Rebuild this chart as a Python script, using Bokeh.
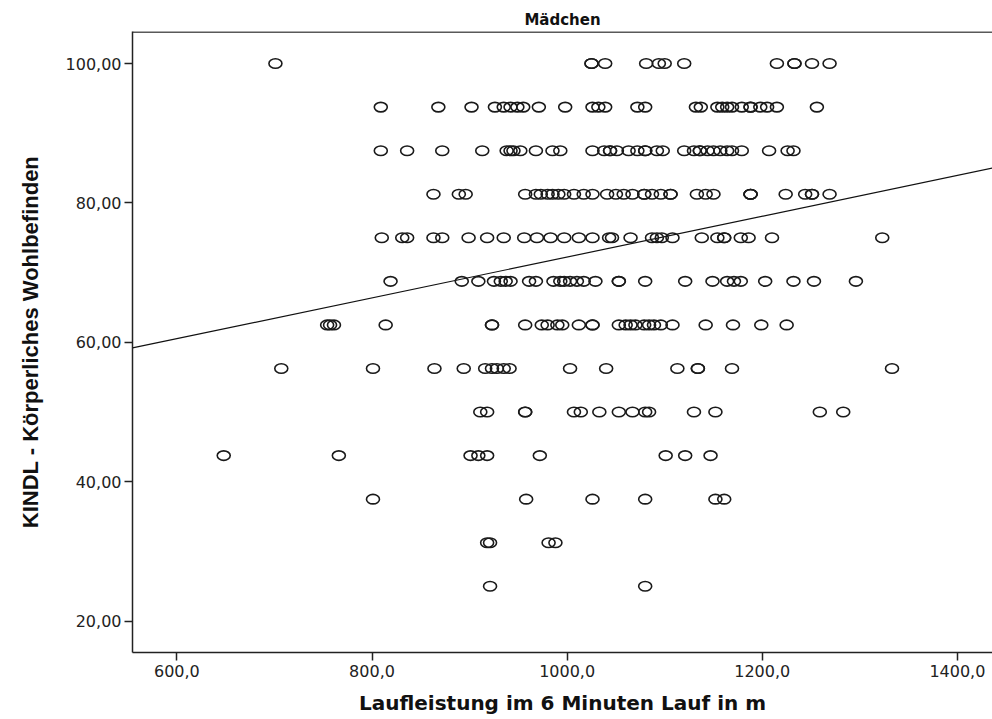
from bokeh.plotting import figure
from bokeh.models import Range1d, FixedTicker, Span, ColumnDataSource
from bokeh.embed import file_html
from bokeh.resources import INLINE

# ---- data ----
levels = [100.0, 93.75, 87.5, 81.25, 75.0, 68.75, 62.5, 56.25, 50.0, 43.75, 37.5, 31.25, 25.0]

run_100 = [701, 1025, 1025, 1039, 1081, 1094, 1100, 1120, 1215, 1233, 1233, 1251, 1269]
run_9375 = [809, 868, 902, 926, 935, 942, 949, 955, 971, 998, 1026, 1032, 1039, 1072, 1080,
            1132, 1137, 1154, 1159, 1164, 1169, 1179, 1188, 1188, 1198, 1205, 1215, 1256]
run_875 = [809, 836, 872, 913, 938, 942, 945, 952, 968, 985, 993, 1026, 1038, 1044, 1044, 1051,
           1063, 1072, 1080, 1080, 1092, 1098, 1120, 1130, 1136, 1136, 1144, 1150, 1157, 1164,
           1169, 1179, 1207, 1226, 1232]
run_8125 = [863, 889, 896, 957, 968, 973, 980, 985, 991, 997, 1007, 1017, 1026, 1041, 1050, 1058,
            1067, 1079, 1079, 1087, 1096, 1106, 1106, 1133, 1142, 1150, 1188, 1188, 1188, 1224,
            1244, 1251, 1251, 1269]
run_75 = [810, 831, 836, 863, 872, 899, 918, 935, 956, 969, 983, 997, 1012, 1026, 1043, 1046,
          1065, 1087, 1092, 1097, 1108, 1138, 1154, 1161, 1161, 1178, 1186, 1210, 1323]
run_6875 = [819, 892, 909, 925, 932, 937, 942, 961, 968, 986, 993, 997, 1003, 1010, 1017, 1029,
            1053, 1053, 1080, 1121, 1149, 1164, 1171, 1178, 1203, 1232, 1253, 1296]
run_625 = [754, 757, 761, 814, 923, 923, 957, 974, 980, 990, 995, 1012, 1026, 1026, 1053, 1060,
           1065, 1070, 1079, 1084, 1089, 1096, 1108, 1142, 1170, 1199, 1225]
run_5625 = [707, 801, 864, 894, 916, 923, 928, 935, 941, 1003, 1040, 1113, 1134, 1134, 1169, 1333]
run_50 = [911, 918, 957, 957, 1007, 1014, 1033, 1053, 1067, 1080, 1084, 1130, 1152, 1259, 1283]
run_4375 = [648, 766, 901, 909, 918, 972, 1101, 1121, 1147]
run_375 = [801, 958, 1026, 1080, 1152, 1161]
run_3125 = [918, 921, 981, 988]
run_25 = [921, 1080]

runs = [run_100, run_9375, run_875, run_8125, run_75, run_6875, run_625,
        run_5625, run_50, run_4375, run_375, run_3125, run_25]

# linear fit line (endpoints)
fit_x = [554.5, 1436.0]
fit_y = [59.2, 85.0]

x_ticks = [600, 800, 1000, 1200, 1400]
x_tick_labels = ["600,0", "800,0", "1000,0", "1200,0", "1400,0"]
y_ticks = [20, 40, 60, 80, 100]
y_tick_labels = ["20,00", "40,00", "60,00", "80,00", "100,00"]

title_text = "Mädchen"
x_title = "Laufleistung im 6 Minuten Lauf in m"
y_title = "KINDL - Körperliches Wohlbefinden"

xs, ys = [], []
for lev, run in zip(levels, runs):
    xs.extend(run)
    ys.extend([lev] * len(run))
src = ColumnDataSource(data=dict(x=xs, y=ys))

# ---- figure ----
X0, X1 = 554.5, 1436.0
Y0, Y1 = 15.5, 104.6
p = figure(width=992, height=719, output_backend="svg", toolbar_location=None,
           x_range=Range1d(X0, X1), y_range=Range1d(Y0, Y1),
           min_border_left=132, min_border_right=0, min_border_top=31, min_border_bottom=67,
           title=title_text)
p.background_fill_color = "white"
p.border_fill_color = "white"
p.outline_line_color = None
p.xgrid.grid_line_color = None
p.ygrid.grid_line_color = None

p.title.align = "center"
p.title.text_font = "DejaVu Sans"
p.title.text_font_size = "15px"
p.title.text_font_style = "bold"
p.title.text_color = "#111111"
p.title.standoff = 6

for ax in (p.xaxis[0], p.yaxis[0]):
    ax.minor_tick_line_color = None
    ax.major_tick_in = 0
    ax.major_tick_out = 8
    ax.major_tick_line_width = 1.5
    ax.major_tick_line_color = "#222222"
    ax.axis_line_width = 1.5
    ax.axis_line_color = "#222222"
    ax.major_label_text_font = "DejaVu Sans"
    ax.major_label_text_font_size = "16px"
    ax.major_label_text_color = "#222222"
    ax.axis_label_text_font_style = "bold"
    ax.axis_label_text_color = "#111111"

p.xaxis.ticker = FixedTicker(ticks=x_ticks)
p.xaxis.major_label_overrides = dict(zip(x_ticks, x_tick_labels))
p.xaxis.major_label_standoff = 4
p.xaxis.axis_label = x_title
p.xaxis.axis_label_text_font = "DejaVu Sans"
p.xaxis.axis_label_text_font_size = "20px"
p.xaxis.axis_label_standoff = 11

p.yaxis.ticker = FixedTicker(ticks=y_ticks)
p.yaxis.major_label_overrides = dict(zip(y_ticks, y_tick_labels))
p.yaxis.major_label_standoff = 3
p.yaxis.axis_label = y_title
p.yaxis.axis_label_text_font = "Liberation Sans"
p.yaxis.axis_label_text_font_size = "22px"
p.yaxis.axis_label_standoff = 20

# top border of the frame
p.add_layout(Span(location=Y1 - 0.08, dimension="width", line_color="#222222", line_width=1.5))

p.line(fit_x, fit_y, line_color="#111111", line_width=1.2)
p.ellipse(x="x", y="y", width=13, height=9.5, width_units="screen", height_units="screen",
          fill_color=None, line_color="#1a1a1a", line_width=1.6, source=src)

open("out.html", "w").write(file_html(p, INLINE))
